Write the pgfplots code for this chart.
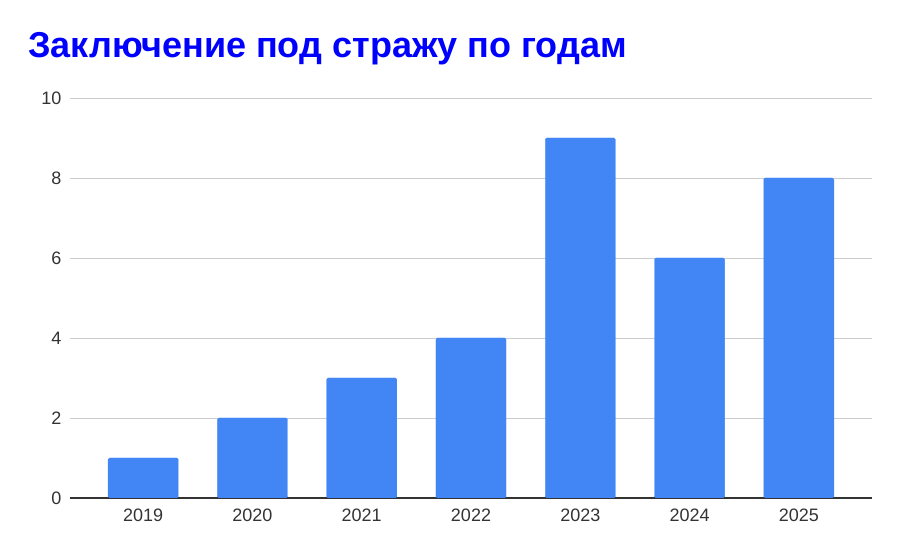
\documentclass[border=0pt]{standalone}
\usepackage{pgfplots}
\pgfplotsset{compat=1.18}
\usepackage{fontspec}
\setmainfont{Liberation Sans}

\definecolor{barblue}{HTML}{4285F4}
\definecolor{titleblue}{HTML}{0000FF}
\definecolor{ticktext}{HTML}{333333}
\definecolor{gridgray}{HTML}{CCCCCC}
\definecolor{baseline}{HTML}{333333}

\pgfplotstableread{
idx value
0 1
1 2
2 3
3 4
4 9
5 6
6 8
}\yeardata

\begin{document}
\begin{tikzpicture}
\path[use as bounding box] (0,0) rectangle (900pt,556pt);
\node[anchor=base west, inner sep=0pt, text=titleblue, font=\fontsize{36}{36}\selectfont\bfseries]
  at (28pt,498pt) {Заключение под стражу по годам};
\begin{axis}[
  at={(70pt,58pt)}, anchor=south west,
  scale only axis,
  width=802pt, height=400pt,
  ybar, bar width=0.641,
  xmin=-0.67, xmax=6.67,
  ymin=0, ymax=10,
  ytick={0,2,4,6,8,10},
  xtick={0,1,2,3,4,5,6},
  xticklabels={2019,2020,2021,2022,2023,2024,2025},
  axis x line=bottom, axis y line=left,
  x axis line style={-, draw=baseline, line width=1.2pt},
  y axis line style={draw=none},
  major tick length=0pt,
  ymajorgrids=true,
  grid style={draw=gridgray, line width=0.9pt},
  /pgf/number format/assume math mode=true,
  tick label style={font=\fontsize{18}{18}\selectfont, text=ticktext},
  yticklabel style={xshift=-5pt},
  xticklabel style={yshift=-7pt},
]
\addplot[fill=barblue, draw=barblue, rounded corners=1.5pt] table[x=idx, y=value] {\yeardata};
\end{axis}
\end{tikzpicture}
\end{document}
